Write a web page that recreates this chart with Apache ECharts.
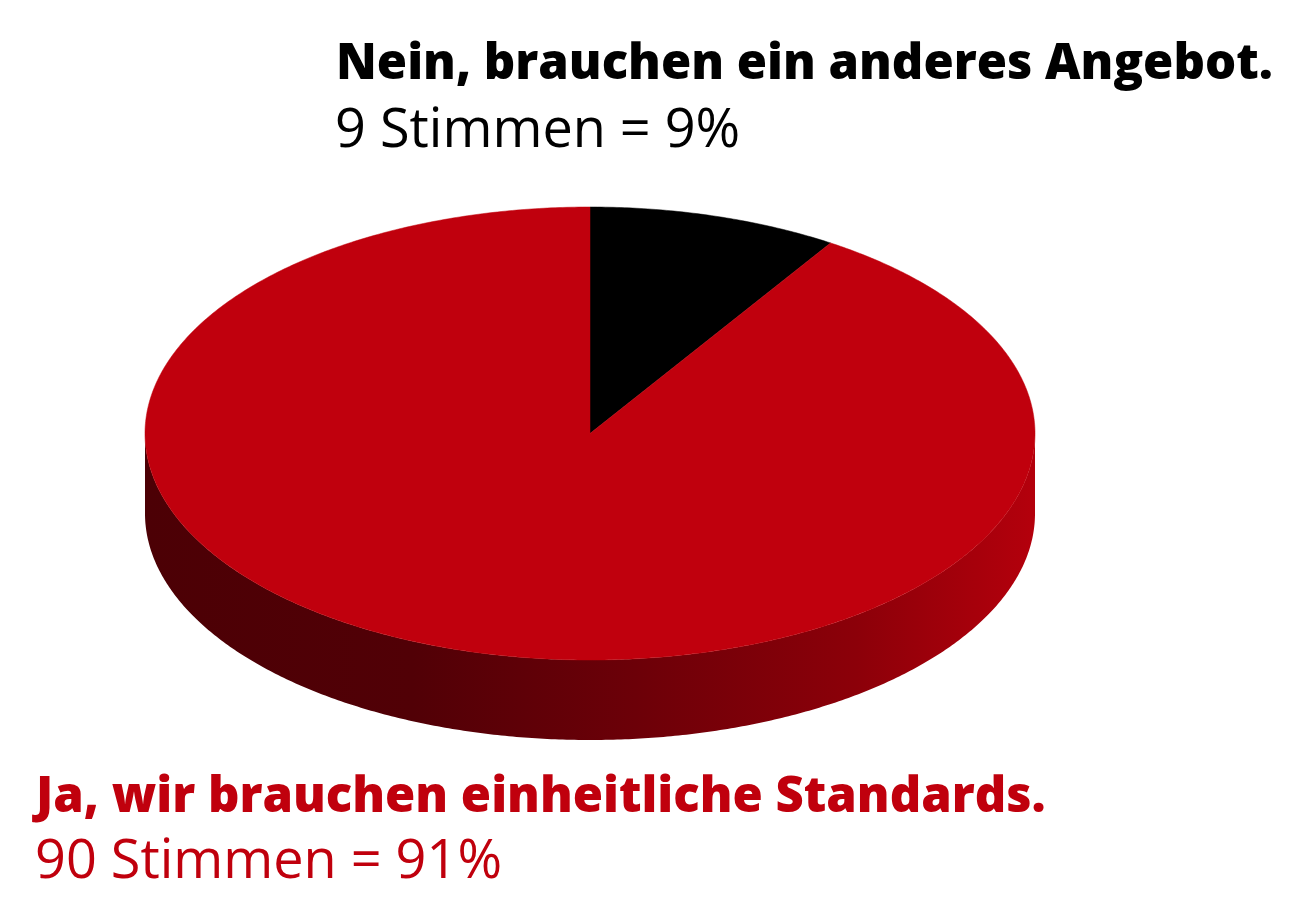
<!DOCTYPE html>
<html>
<head>
<meta charset="utf-8">
<script src="https://cdn.jsdelivr.net/npm/echarts@6/dist/echarts.min.js"></script>
<style>html,body{margin:0;padding:0;background:#fff}#c{width:1300px;height:916px}</style>
</head>
<body>
<div id="c"></div>
<script>
const categories = ['Nein, brauchen ein anderes Angebot.', 'Ja, wir brauchen einheitliche Standards.'];
const votes = [9, 90];
const percents = [9, 91];
const colors = ['#000000', '#c0000d'];

const total = votes.reduce((a, b) => a + b, 0);
const cum = [0];
votes.forEach((v, i) => cum.push(cum[i] + v));

const chart = echarts.init(document.getElementById('c'));
const CX = 590, CY = 433.5, RX = 445, RY = 226.5, DEPTH = 80;

function pt(t, dy) { return [CX + RX * Math.sin(t), CY - RY * Math.cos(t) + (dy || 0)]; }
function arc(a, b, dy) {
  const pts = [];
  const n = Math.max(2, Math.ceil((b - a) / (Math.PI / 360)));
  for (let i = 0; i <= n; i++) pts.push(pt(a + (b - a) * i / n, dy));
  return pts;
}
const F = "'Open Sans'";
chart.setOption({
  animation: false,
  title: [
    { text: categories[0], left: 331, top: 36, textStyle: { fontFamily: F, fontWeight: 800, fontSize: 49, color: colors[0] } },
    { text: votes[0] + ' Stimmen = ' + percents[0] + '%', left: 330, top: 100, textStyle: { fontFamily: F, fontWeight: 400, fontSize: 54, color: colors[0] } },
    { text: categories[1], left: 31, top: 769, textStyle: { fontFamily: F, fontWeight: 800, fontSize: 49, color: colors[1] } },
    { text: votes[1] + ' Stimmen = ' + percents[1] + '%', left: 30, top: 831, textStyle: { fontFamily: F, fontWeight: 400, fontSize: 54, color: colors[1] } }
  ],
  series: [{
    type: 'custom',
    coordinateSystem: 'none',
    data: votes.map((v, i) => ({ name: categories[i], value: v })),
    renderItem: function (params, api) {
      const i = params.dataIndex;
      const a = cum[i] / total * Math.PI * 2;
      const b = cum[i + 1] / total * Math.PI * 2;
      const children = [];
      const fa = Math.max(a, Math.PI / 2), fb = Math.min(b, Math.PI * 1.5);
      if (fb > fa && i > 0) {
        const top = arc(fa, fb, 0);
        const bot = arc(fa, fb, DEPTH).reverse();
        children.push({
          type: 'polygon',
          shape: { points: top.concat(bot) },
          style: {
            fill: new echarts.graphic.LinearGradient(0, 0, 1, 0, [
              { offset: 0, color: '#4c0005' },
              { offset: 0.3, color: '#510006' },
              { offset: 0.55, color: '#6c0008' },
              { offset: 0.8, color: '#8c0009' },
              { offset: 1, color: '#b4000c' }
            ])
          }
        });
      }
      children.push({
        type: 'polygon',
        shape: { points: [[CX, CY]].concat(arc(a, b, 0)) },
        style: { fill: colors[i], stroke: colors[i], lineWidth: 0.5 }
      });
      return { type: 'group', children: children };
    }
  }]
});
</script>
</body>
</html>
